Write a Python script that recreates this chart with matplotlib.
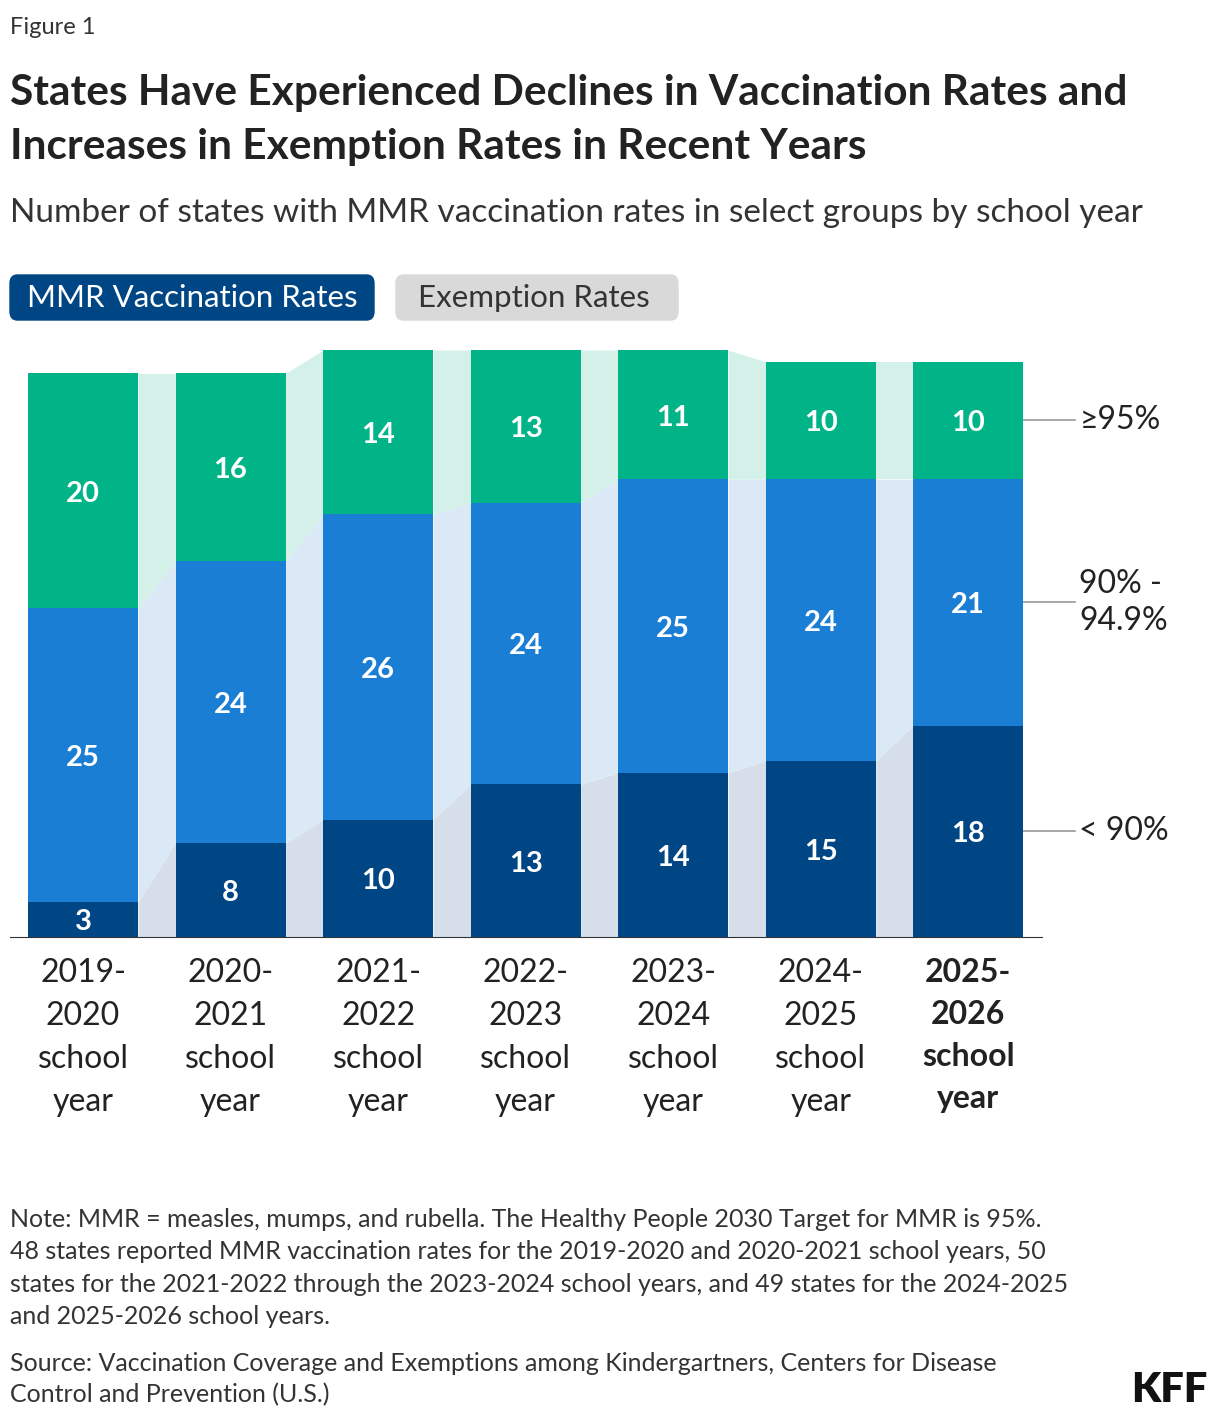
import matplotlib
matplotlib.use("Agg")
import matplotlib.pyplot as plt
from matplotlib.patches import FancyBboxPatch
import numpy as np

plt.rcParams['font.family'] = ['Lato', 'DejaVu Sans']

years = ["2019-\n2020\nschool\nyear", "2020-\n2021\nschool\nyear", "2021-\n2022\nschool\nyear",
         "2022-\n2023\nschool\nyear", "2023-\n2024\nschool\nyear", "2024-\n2025\nschool\nyear",
         "2025-\n2026\nschool\nyear"]
below90 = [3, 8, 10, 13, 14, 15, 18]
mid90_95 = [25, 24, 26, 24, 25, 24, 21]
above95 = [20, 16, 14, 13, 11, 10, 10]
seg_labels = ["< 90%", "90% -\n94.9%", "≥95%"]

cols = ["#004685", "#1a7fd4", "#00b487"]
light = ["#d6dfe9", "#dbe9f7", "#d3f1e8"]

W, H = 1220, 1424
fig = plt.figure(figsize=(W/100, H/100), dpi=100)
ax = fig.add_axes([10/W, 1-937/H, 1032/W, 587/H])
x = np.arange(len(years))
bw = 0.746
series = [below90, mid90_95, above95]
bottoms = np.zeros(len(x))
for k, s in enumerate(series):
    s = np.array(s, float)
    for i in range(len(x)-1):
        xs = [x[i]+bw/2, x[i+1]-bw/2]
        ax.fill_between(xs, [bottoms[i], bottoms[i+1]], [bottoms[i]+s[i], bottoms[i+1]+s[i+1]],
                        color=light[k], lw=0)
    ax.bar(x, s, bw, bottom=bottoms, color=cols[k], zorder=3)
    for i in range(len(x)):
        ax.text(x[i], bottoms[i]+s[i]/2 - 0.25, str(int(s[i])), ha='center', va='center',
                color='white', fontsize=21, fontweight='bold', zorder=4)
    yc = bottoms[-1]+s[-1]/2
    ax.plot([x[-1]+bw/2, x[-1]+bw/2+0.35], [yc, yc], color='#999999', lw=1.2, clip_on=False)
    ax.text(x[-1]+bw/2+0.38, yc, seg_labels[k], ha='left', va='center', fontsize=23,
            color='#222222', linespacing=1.3)
    bottoms = bottoms + s
ax.set_xlim(-0.495, 6.5)
ax.set_ylim(0, 50)
ax.set_yticks([])
ax.set_xticks(x)
ax.set_xticklabels(years, fontsize=23, color='#222222', linespacing=1.55)
ax.get_xticklabels()[-1].set_fontweight('bold')
ax.tick_params(axis='x', length=0, pad=15)
for sp in ['top', 'right', 'left']:
    ax.spines[sp].set_visible(False)
ax.spines['bottom'].set_color('#333333')

fig.text(10/W, 1-27/H, "Figure 1", fontsize=17, va='center', color='#333333')
fig.text(10/W, 1-120/H, "States Have Experienced Declines in Vaccination Rates and\nIncreases in Exemption Rates in Recent Years",
         fontsize=30.5, fontweight='bold', va='center', color='#222222', linespacing=1.5)
fig.text(10/W, 1-213/H, "Number of states with MMR vaccination rates in select groups by school year",
         fontsize=24, va='center', color='#333333')

b1 = FancyBboxPatch((10/W, 1-320/H), 364/W, 45/H, boxstyle="round,pad=0,rounding_size=0.006",
                    transform=fig.transFigure, color='#004685')
b2 = FancyBboxPatch((396/W, 1-320/H), 282/W, 45/H, boxstyle="round,pad=0,rounding_size=0.006",
                    transform=fig.transFigure, color='#d9d9d9')
fig.patches.extend([b1, b2])
fig.text(192/W, 1-298/H, "MMR Vaccination Rates", fontsize=22.5, color='white', ha='center', va='center')
fig.text(534/W, 1-298/H, "Exemption Rates", fontsize=22.5, color='#333333', ha='center', va='center')

fig.text(10/W, 1-1268/H, "Note: MMR = measles, mumps, and rubella. The Healthy People 2030 Target for MMR is 95%.\n"
         "48 states reported MMR vaccination rates for the 2019-2020 and 2020-2021 school years, 50\n"
         "states for the 2021-2022 through the 2023-2024 school years, and 49 states for the 2024-2025\n"
         "and 2025-2026 school years.", fontsize=18, va='center', color='#333333', linespacing=1.5)
fig.text(10/W, 1-1379/H, "Source: Vaccination Coverage and Exemptions among Kindergartners, Centers for Disease\n"
         "Control and Prevention (U.S.)", fontsize=18, va='center', color='#333333', linespacing=1.45)
fig.text(1208/W, 1-1390/H, "KFF", fontsize=30, fontweight='heavy', ha='right', va='center', color='#111111')
fig.savefig("out.png", dpi=100)
